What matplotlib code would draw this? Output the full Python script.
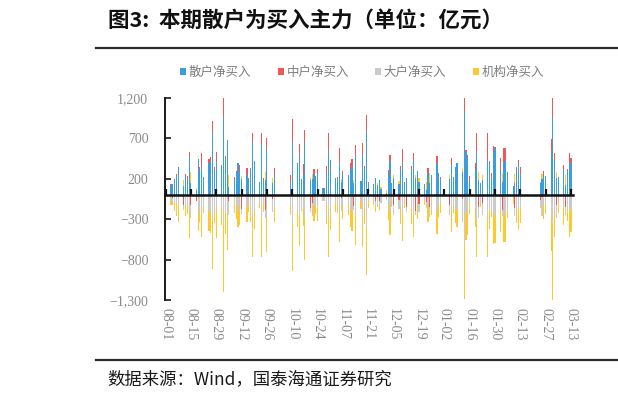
import numpy as np
import pandas as pd
import matplotlib
matplotlib.use("Agg")
import matplotlib.pyplot as plt
import matplotlib.dates as mdates
from matplotlib.lines import Line2D

plt.rcParams['font.family'] = ['Noto Sans CJK SC', 'DejaVu Sans']

# ---------------- data ----------------
series_names = ['散户净买入', '中户净买入', '大户净买入', '机构净买入']
series_colors = ['#3A9EDD', '#F45656', '#CACACA', '#FFC92E']

holidays = ['2025-10-01', '2025-10-02', '2025-10-03', '2025-10-06', '2025-10-07', '2025-10-08',
            '2026-01-01', '2026-01-02',
            '2026-02-16', '2026-02-17', '2026-02-18', '2026-02-19', '2026-02-20', '2026-02-23']

retail = [
    220, 120, 130, 190, 230, 340, 110, 240, 190, 470, 150, 60, 450, 300, 350, 220, 390, 420, 765, 310, 413,
    360, 950, 454, 680, 100, 200, 270, 400, 280, 200, 248, 190, 330, 652, 420, 165, 630, 200, 186, 566, 145, 248,
    165, 661, 392, 500, 195, 248, 640, 186, 200, 260, 220, 260, 80, 70, 270, 545, 430,
    206, 200, 400, 165, 256, 248, 310, 360, 150, 496, 173, 496, 330, 797, 150, 120, 206, 124, 180, 70,
    10, 248, 421, 140, 215, 140, 318, 392, 150, 206, 310, 434, 215, 297, 157, 120, 62, 277, 145, 248, 400, 268, 200,
    194, 372, 227, 351, 392, 290, 1032, 537, 454, 165, 310, 516, 186, 145, 186, 434, 400, 206, 537, 578,
    310, 165, 413, 434, 289, 100, 145, 318, 400, 248, 153, 194, 248, 235,
    525, 970, 430, 206, 227, 310, 124, 300, 400, 400]

medium = [
    10, 10, -40, 10, 30, 0, -120, 20, 50, 60, -120, -70, 0, 40, 165, 0, 60, 50, 155, 40, 124,
    10, 248, 30, 0, -80, 20, 30, 0, 90, -170, 82, 20, 0, 113, 5, 0, 140, 10, -186, 144, -50, 82,
    83, 277, 0, 132, 0, 136, 165, -165, -100, 62, 20, 60, 0, 10, 90, 227, 0,
    10, 20, 178, -40, 41, 0, 82, 82, -135, 124, 0, 144, 30, 194, 10, 10, -70, -20, -80, 0,
    10, 62, 75, 10, -125, -60, 42, 173, 10, -150, 50, 82, -200, 0, -116, 10, -83, 53, -145, 0, 83, 0, 20,
    -124, 83, 0, 0, 0, -50, 258, 20, 42, 70, 82, 256, -145, 0, -100, 331, 20, 62, 70, 12,
    150, -186, 165, 144, 0, 10, -165, 25, 34, 95, -62, -20, 53, 5,
    165, 331, 91, -124, 0, 62, -145, 20, 116, 60]

large = [
    -80, -70, -60, -100, -110, -140, -60, -150, -110, -200, -160, -10, -270, -170, -230, -140, -200, -220, -300, -150, -220,
    -150, -350, -200, -250, -170, -100, -130, -210, -150, -70, -150, -100, -200, -280, -180, -100, -300, -100, -100, -260, -165, -150,
    -125, -350, -200, -260, -185, -160, -300, -51, -160, -140, -120, -160, -80, -80, -130, -300, -190,
    -100, -100, -230, -155, -130, -110, -180, -200, -45, -250, -70, -250, -150, -400, -80, -60, -60, -134, -50, -100,
    -60, -130, -200, -70, -120, -110, -150, -230, -80, -66, -150, -220, -45, -127, -91, -60, -79, -130, -123, -186, -200, -130, -100,
    -124, -200, -124, -170, -180, -280, -578, -230, -200, -100, -170, -320, -141, -100, -148, -300, -180, -180, -250, -250,
    -180, -79, -250, -240, -200, -50, -95, -150, -180, -150, -103, -236, -130, -110,
    -260, -350, -200, -165, -100, -150, -103, -150, -200, -180]

institution = [
    -150, -60, -30, -100, -150, -200, 70, -110, -130, -330, 130, 20, -180, -170, -285, -80, -250, -250, -620, -200, -317,
    -220, -848, -284, -430, 150, -120, -170, -190, -220, 40, -180, -110, -130, -485, -245, -65, -470, -110, 100, -450, 70, -180,
    -123, -588, -192, -372, -10, -224, -505, 30, 60, -182, -120, -160, 0, 0, -230, -472, -240,
    -116, -120, -348, 30, -167, -138, -212, -242, 30, -370, -103, -390, -210, -591, -80, -70, -76, 30, -50, 30,
    40, -180, -296, -80, 30, 30, -210, -335, -80, 10, -210, -296, 30, -170, 50, -70, 100, -200, 123, -62, -283, -138, -120,
    54, -255, -103, -181, -212, 40, -712, -327, -296, -135, -222, -452, 100, -45, 62, -465, -240, -88, -357, -340,
    -280, 100, -328, -338, -89, -60, 115, -193, -254, -193, 12, 62, -171, -130,
    -430, -951, -321, 83, -127, -222, 124, -170, -316, -280]

tick_labels = ['08-01', '08-15', '08-29', '09-12', '09-26', '10-10', '10-24', '11-07', '11-21',
               '12-05', '12-19', '01-02', '01-16', '01-30', '02-13', '02-27', '03-13']
y_ticks = [-1300, -800, -300, 200, 700, 1200]

# ---------------- build ----------------
days = pd.bdate_range('2025-08-01', '2026-03-13')
days = days[~days.isin(pd.to_datetime(holidays))]
x = mdates.date2num(days.to_pydatetime())

vals = np.array([retail, medium, large, institution], dtype=float)
assert vals.shape[1] == len(x), (vals.shape, len(x))
pos = np.clip(vals, 0, None)
neg = np.clip(vals, None, 0)
pos_bot = np.vstack([np.zeros(len(x)), np.cumsum(pos, axis=0)[:-1]])
neg_bot = np.vstack([np.zeros(len(x)), np.cumsum(neg, axis=0)[:-1]])

tick_dates = mdates.date2num(pd.date_range('2025-08-01', periods=len(tick_labels), freq='14D').to_pydatetime())

fig = plt.figure(figsize=(6.18, 3.97), dpi=100)
ax = fig.add_axes([165 / 618, 1 - 300 / 397, 408 / 618, 202 / 397])

handles = []
for i in range(4):
    b = ax.bar(x, pos[i], bottom=pos_bot[i], width=0.62, color=series_colors[i], linewidth=0,
               label=series_names[i])
    ax.bar(x, neg[i], bottom=neg_bot[i], width=0.62, color=series_colors[i], linewidth=0)
    handles.append(b)

ax.set_xlim(tick_dates[0] - 0.3, tick_dates[-1] + 1.1)
ax.set_ylim(-1300, 1200)

for s in ['top', 'right']:
    ax.spines[s].set_visible(False)
ax.spines['left'].set_linewidth(1.4)
ax.spines['left'].set_color('#1a1a1a')
ax.spines['bottom'].set_position(('data', 0))
ax.spines['bottom'].set_linewidth(1.8)
ax.spines['bottom'].set_color('#111111')

ax.set_xticks(tick_dates)
ax.tick_params(axis='x', direction='in', length=4, width=1.6, color='#111111', labelbottom=False)

ax.set_yticks(y_ticks)
def fmt(v):
    s = f"{abs(int(v)):,}"
    return ("\u2212" + s) if v < 0 else s
ax.set_yticklabels([fmt(v) for v in y_ticks], fontfamily='Liberation Serif', fontsize=10, color='#8a8a8a')
ax.tick_params(axis='y', direction='in', length=4, width=1.2, color='#1a1a1a', pad=12)

sec = ax.secondary_xaxis('bottom')
sec.set_xticks(tick_dates)
sec.set_xticklabels(tick_labels, fontfamily='Liberation Serif', fontsize=10, color='#8a8a8a', rotation=270)
sec.tick_params(length=0, pad=6)
sec.spines['bottom'].set_visible(False)

leg = fig.legend(handles=handles, labels=series_names, loc='center', ncol=4,
                 bbox_to_anchor=(362 / 618, 1 - 72 / 397), frameon=False, fontsize=9,
                 handlelength=0.5, handleheight=0.5, handletextpad=0.2, columnspacing=2.1,
                 labelcolor='#7f7f7f')

# title, rules and source
fig.text(108 / 618, 1 - 20 / 397, '图3:  本期散户为买入主力（单位：亿元）', fontsize=15.5,
         fontweight='bold', va='center', ha='left', color='#111111')
fig.add_artist(Line2D([96 / 618, 1.0], [1 - 47.5 / 397] * 2, color='#2b2b2b', lw=1.6))
fig.add_artist(Line2D([96 / 618, 1.0], [1 - 360 / 397] * 2, color='#2b2b2b', lw=1.6))
fig.text(107 / 618, 1 - 379 / 397, '数据来源：Wind，国泰海通证券研究', fontsize=12.5,
         va='center', ha='left', color='#1a1a1a')

fig.savefig('out.png', dpi=100)
